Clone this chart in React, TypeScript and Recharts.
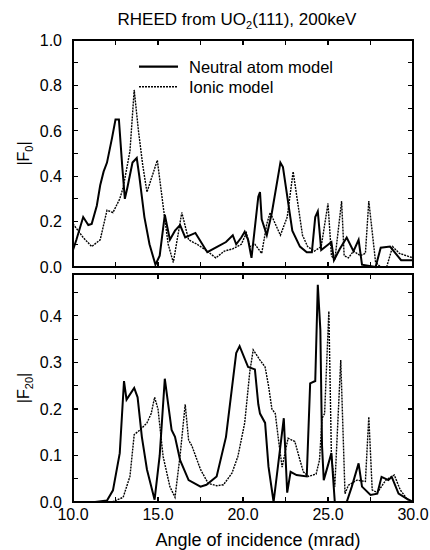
import { Label, Line, LineChart, XAxis, YAxis } from "recharts";

// [angle (mrad), |F|]
const f0Neutral: [number, number][] = [
  [10.0, 0.075], [10.2, 0.12], [10.6, 0.22], [10.9, 0.185], [11.1, 0.19], [11.4, 0.27],
  [11.6, 0.36], [11.8, 0.42], [12.0, 0.46], [12.3, 0.57], [12.5, 0.65], [12.7, 0.65],
  [12.9, 0.44], [13.05, 0.3], [13.2, 0.35], [13.5, 0.46], [13.75, 0.48], [13.9, 0.4],
  [14.2, 0.22], [14.5, 0.1], [14.85, 0.01], [15.1, 0.05], [15.4, 0.23], [15.7, 0.12],
  [16.0, 0.16], [16.3, 0.185], [16.6, 0.13], [17.2, 0.15], [17.9, 0.065], [18.5, 0.09],
  [19.0, 0.11], [19.4, 0.14], [19.6, 0.1], [19.9, 0.13], [20.1, 0.155], [20.3, 0.12],
  [20.5, 0.04], [20.9, 0.31], [21.0, 0.33], [21.1, 0.21], [21.4, 0.14], [21.7, 0.24],
  [22.2, 0.46], [22.35, 0.44], [22.9, 0.16], [23.35, 0.09], [23.75, 0.065], [24.05, 0.065],
  [24.25, 0.22], [24.4, 0.245], [24.6, 0.075], [25.2, 0.11], [25.35, 0.03], [25.7, 0.08],
  [26.1, 0.13], [26.5, 0.07], [26.8, 0.12], [27.0, 0.01], [27.8, 0.0], [28.1, 0.085],
  [28.65, 0.09], [29.3, 0.03], [29.8, 0.03], [30.0, 0.03],
];

const f0Ionic: [number, number][] = [
  [10.0, 0.19], [10.6, 0.13], [11.1, 0.09], [11.6, 0.12], [12.0, 0.25], [12.35, 0.24],
  [12.75, 0.3], [12.95, 0.35], [13.35, 0.51], [13.6, 0.78], [13.85, 0.6], [14.1, 0.45],
  [14.35, 0.33], [14.96, 0.47], [15.3, 0.27], [15.6, 0.1], [15.9, 0.02], [16.4, 0.24],
  [16.8, 0.12], [17.3, 0.1], [17.9, 0.07], [18.4, 0.04], [18.9, 0.07], [19.4, 0.08],
  [19.9, 0.1], [20.2, 0.15], [20.4, 0.09], [20.7, 0.1], [21.1, 0.06], [21.4, 0.19],
  [21.6, 0.24], [22.2, 0.14], [22.6, 0.22], [22.95, 0.42], [23.5, 0.14], [23.8, 0.09],
  [24.2, 0.07], [24.6, 0.09], [25.0, 0.28], [25.2, 0.05], [25.4, 0.03], [25.8, 0.29],
  [25.95, 0.05], [26.2, 0.04], [26.5, 0.07], [26.9, 0.05], [27.2, 0.06], [27.4, 0.29],
  [27.8, 0.02], [28.1, 0.0], [28.45, 0.0], [28.8, 0.09], [29.2, 0.06], [29.8, 0.045],
  [30.0, 0.04],
];

const f20Neutral: [number, number][] = [
  [11.3, 0], [12.0, 0.003], [12.35, 0.025], [12.75, 0.105], [13.0, 0.26], [13.15, 0.22],
  [13.6, 0.245], [13.8, 0.225], [14.05, 0.14], [14.35, 0.07], [14.8, 0.005], [15.1, 0.1],
  [15.4, 0.265], [15.6, 0.21], [15.8, 0.155], [16.0, 0.14], [16.3, 0.09], [16.8, 0.047],
  [17.5, 0.033], [17.85, 0.037], [18.45, 0.055], [19.0, 0.14], [19.6, 0.32], [19.8, 0.335],
  [20.3, 0.29], [20.7, 0.285], [20.9, 0.21], [21.0, 0.19], [21.3, 0.17], [21.5, 0.076],
  [21.8, 0], [22.4, 0.18], [22.6, 0.02], [22.8, 0.065], [23.15, 0.058], [23.75, 0.055],
  [23.95, 0.255], [24.25, 0.26], [24.4, 0.467], [24.55, 0.37], [24.65, 0.12], [24.75, 0.047],
  [25.2, 0.105], [25.4, 0], [26.1, 0], [26.4, 0.033], [26.8, 0.083], [27.0, 0.033],
  [27.5, 0.015], [27.9, 0.018], [28.15, 0.054], [28.55, 0.047], [28.75, 0.054],
  [29.15, 0.018], [29.6, 0.008], [30.0, 0.0],
];

const f20Ionic: [number, number][] = [
  [12.3, 0], [12.95, 0.01], [13.35, 0.055], [13.6, 0.145], [13.95, 0.155], [14.35, 0.17],
  [14.6, 0.19], [14.8, 0.225], [15.0, 0.2], [15.3, 0.098], [15.7, 0.033], [16.0, 0.01],
  [16.3, 0.1], [16.6, 0.21], [16.8, 0.133], [17.0, 0.12], [17.5, 0.07], [17.95, 0.04],
  [18.45, 0.035], [18.85, 0.037], [19.35, 0.062], [19.7, 0.098], [20.1, 0.17], [20.4, 0.28],
  [20.6, 0.327], [21.0, 0.305], [21.3, 0.29], [21.5, 0.25], [21.7, 0.2], [21.9, 0.19],
  [22.1, 0.13], [22.3, 0.075], [22.65, 0.137], [23.05, 0.13], [23.35, 0.09], [23.55, 0.065],
  [23.85, 0.055], [24.3, 0.06], [24.5, 0.09], [24.65, 0.18], [24.8, 0.19], [25.05, 0.41],
  [25.2, 0.1], [25.4, 0.033], [25.75, 0.305], [26.0, 0.018], [26.2, 0.036], [26.7, 0.047],
  [27.2, 0.044], [27.4, 0.183], [27.6, 0.026], [27.9, 0.02], [28.4, 0.047], [28.9, 0.058],
  [29.25, 0.026], [29.7, 0.004],
];

const xTicks = [10, 12.5, 15, 17.5, 20, 22.5, 25, 27.5, 30];
const topTicks = [0, 0.1, 0.2, 0.3, 0.4, 0.5, 0.6, 0.7, 0.8, 0.9, 1.0];
const bottomTicks = [0, 0.05, 0.1, 0.15, 0.2, 0.25, 0.3, 0.35, 0.4, 0.45];

const X_MIN = 10;
const X_MAX = 30;
const PLOT_L = 73;
const PLOT_W = 340;
const TICK = 5;
const Y_GAP = 11;
const X_GAP = 7;

const FONT = "'Liberation Sans', Arial, Helvetica, sans-serif";

const pts = (rows: [number, number][]) => rows.map(([a, v]) => ({ a, v }));

function YTick({ x, y, payload, fmt }: any) {
  return (
    <text x={x} y={y} dy="0.36em" textAnchor="end" fontFamily={FONT} fontSize={16} fill="#000">
      {fmt(payload.value)}
    </text>
  );
}

function XTick({ x, y, payload, showLabel }: any) {
  if (!showLabel || payload.value % 5 !== 0) return <g />;
  return (
    <text x={x} y={y} dy="0.71em" textAnchor="middle" fontFamily={FONT} fontSize={16} fill="#000">
      {payload.value.toFixed(1)}
    </text>
  );
}

function FLabel({ viewBox, sub }: any) {
  if (!viewBox) return null;
  const cx = 29;
  const cy = viewBox.y + viewBox.height / 2;
  return (
    <text x={cx} y={cy} transform={`rotate(-90 ${cx} ${cy})`} textAnchor="middle"
      fontFamily={FONT} fontSize={16} fill="#000">
      |F<tspan dy={4} fontSize={11}>{sub}</tspan><tspan dy={-4}>|</tspan>
    </text>
  );
}

function XTitle({ viewBox }: any) {
  if (!viewBox) return null;
  return (
    <text x={viewBox.x + viewBox.width / 2 + 15} y={viewBox.y + 44} textAnchor="middle"
      fontFamily={FONT} fontSize={18} fill="#000">
      Angle of incidence (mrad)
    </text>
  );
}

// panel box with inward ticks on all four sides, as plain html boxes
function FrameBox({ top, height, ticks, max }: { top: number; height: number; ticks: number[]; max: number }) {
  const right = PLOT_L + PLOT_W;
  const bottom = top + height;
  const xp = (t: number) => PLOT_L + ((t - X_MIN) / (X_MAX - X_MIN)) * PLOT_W;
  const yp = (v: number) => bottom - (v / max) * height;
  const mark = (key: string, left: number, topPx: number, w: number, h: number) => (
    <div key={key} style={{ position: "absolute", left, top: topPx, width: w, height: h, background: "#000" }} />
  );
  const marks: any[] = [];
  xTicks.filter((t) => t > X_MIN && t < X_MAX).forEach((t) => {
    marks.push(mark(`b${t}`, xp(t) - 0.6, bottom - TICK, 1.2, TICK));
    marks.push(mark(`t${t}`, xp(t) - 0.6, top, 1.2, TICK));
  });
  ticks.filter((t) => t > 0 && t < max - 1e-9).forEach((t) => {
    marks.push(mark(`l${t}`, PLOT_L, yp(t) - 0.6, TICK, 1.2));
    marks.push(mark(`r${t}`, right - TICK, yp(t) - 0.6, TICK, 1.2));
  });
  return (
    <>
      <div style={{ position: "absolute", left: PLOT_L - 1, top: top - 1, width: PLOT_W + 2, height: height + 2,
        boxSizing: "border-box", border: "2px solid #000" }} />
      {marks}
    </>
  );
}

function Panel({ neutral, ionic, ticks, max, sub, bottom }: any) {
  const step = max > 0.6 ? 0.2 : 0.1;
  const fmtY = (v: number) => {
    const r = v / step;
    return Math.abs(r - Math.round(r)) < 1e-6 ? v.toFixed(1) : "";
  };
  return (
    <LineChart width={430} height={bottom ? 280 : 285}
      margin={{ top: bottom ? 4 : 40, right: 17, bottom: 0, left: 0 }}>
      <XAxis dataKey="a" type="number" domain={[X_MIN, X_MAX]} ticks={xTicks}
        height={bottom ? 48 : 18} tickSize={0} tickMargin={X_GAP} axisLine={false} tickLine={false}
        interval={0} tick={(p: any) => <XTick {...p} showLabel={bottom} />}>
        {bottom && <Label content={<XTitle />} />}
      </XAxis>
      <YAxis type="number" domain={[0, max]} ticks={ticks} width={PLOT_L}
        tickSize={0} tickMargin={Y_GAP} axisLine={false} tickLine={false} interval={0}
        tick={(p: any) => <YTick {...p} fmt={fmtY} />}>
        <Label content={<FLabel sub={sub} />} />
      </YAxis>
      <Line data={pts(neutral)} dataKey="v" type="linear" stroke="#000" strokeWidth={2}
        dot={false} isAnimationActive={false} />
      <Line data={pts(ionic)} dataKey="v" type="linear" stroke="#000" strokeWidth={1.4}
        strokeDasharray="2 1" dot={false} isAnimationActive={false} />
    </LineChart>
  );
}

export default function App() {
  return (
    <div style={{ position: "absolute", left: 0, top: 0, width: 430, height: 550, background: "#fff", fontFamily: FONT }}>
      <div style={{ position: "absolute", left: 22, top: 11, width: 430, textAlign: "center", fontSize: 17, lineHeight: "17px" }}>
        RHEED from UO<sub style={{ fontSize: 11, lineHeight: 0 }}>2</sub>(111), 200keV
      </div>
      <div style={{ position: "absolute", left: 0, top: 0 }}>
        <Panel neutral={f0Neutral} ionic={f0Ionic} ticks={topTicks} max={1} sub="0" />
      </div>
      <div style={{ position: "absolute", left: 0, top: 270 }}>
        <Panel neutral={f20Neutral} ionic={f20Ionic} ticks={bottomTicks} max={0.49} sub="20" bottom />
      </div>
      <FrameBox top={40} height={227} ticks={topTicks} max={1} />
      <FrameBox top={274} height={228} ticks={bottomTicks} max={0.49} />
      <svg width={230} height={45} style={{ position: "absolute", left: 130, top: 55, pointerEvents: "none" }}>
        <path d="M9,11.7h39" stroke="#000" strokeWidth={2.2} />
        <text x={59} y={18} fontFamily={FONT} fontSize={16.5} fill="#000">Neutral atom model</text>
        <path d="M9,31.7h39" stroke="#000" strokeWidth={1.4} strokeDasharray="2 1" />
        <text x={59} y={37.5} fontFamily={FONT} fontSize={16.5} fill="#000">Ionic model</text>
      </svg>
    </div>
  );
}
